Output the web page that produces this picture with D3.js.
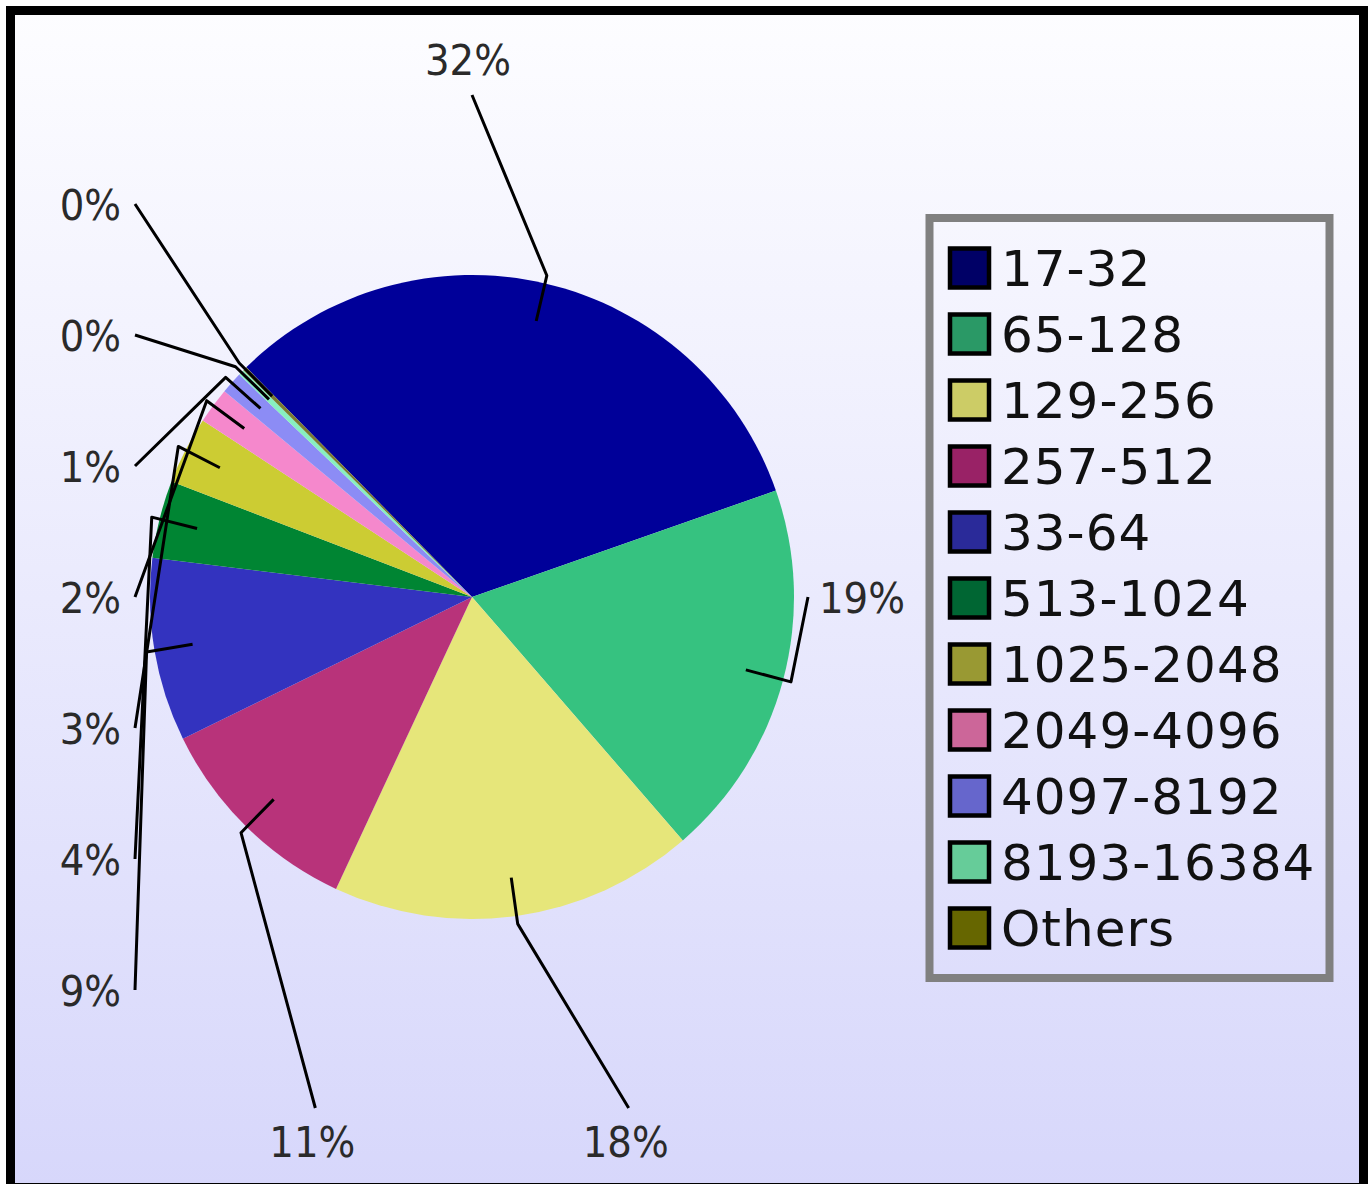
<!DOCTYPE html>
<html>
<head>
<meta charset="utf-8">
<script src="https://cdn.jsdelivr.net/npm/d3@7/dist/d3.min.js"></script>
<style>
  html, body { margin: 0; padding: 0; background: #ffffff; }
  svg { display: block; }
</style>
</head>
<body>
<svg id="chart" width="1371" height="1184"></svg>
<script>
// ---- data ----
const categories = ['17-32','65-128','129-256','257-512','33-64','513-1024','1025-2048','2049-4096','4097-8192','8193-16384','Others'];
const values = [32.0, 19.0, 18.3, 10.8, 9.2, 3.9, 3.4, 1.8, 1.1, 0.3, 0.2];

// ---- styles ----
const legendColors = ['#000066','#2a9966','#cccc66','#992266','#2a2a99','#006633','#999933','#cc6699','#6666cc','#66cc99','#666600'];
const sliceColors  = ['#000099','#36c280','#e6e67a','#b8337a','#3333bf','#008533','#cccc33','#f588cc','#8c8cf5','#88f0c0','#7a7a30'];

const W = 1371, H = 1184;
const svg = d3.select('#chart');

// background gradient
const defs = svg.append('defs');
const grad = defs.append('linearGradient').attr('id','bg')
  .attr('x1',0).attr('y1',0).attr('x2',0).attr('y2',1);
grad.append('stop').attr('offset','0%').attr('stop-color','#fdfdff');
grad.append('stop').attr('offset','100%').attr('stop-color','#d7d7fb');

svg.append('rect').attr('x',0).attr('y',0).attr('width',W).attr('height',H).attr('fill','#ffffff');
svg.append('rect').attr('x',10.5).attr('y',10.5).attr('width',1353).attr('height',1177)
  .attr('fill','url(#bg)').attr('stroke','#000').attr('stroke-width',9);

// ---- pie ----
const cx = 472, cy = 597, R = 322;
const deg = Math.PI / 180;
const startDeg = -44.5;
const pie = d3.pie().sort(null).value(d => d.v)
  .startAngle(startDeg * deg).endAngle((startDeg + 360) * deg);
const data = categories.map((c, i) => ({ c, v: values[i], i }));
const arcs = pie(data);
const arc = d3.arc().innerRadius(0).outerRadius(R);

const g = svg.append('g').attr('transform', `translate(${cx},${cy})`);
g.selectAll('path.slice').data(arcs).join('path')
  .attr('class','slice')
  .attr('d', arc)
  .attr('fill', d => sliceColors[d.data.i]);

// ---- labels (four-sided distribution) ----
const innerArc = d3.arc().innerRadius(R * 0.88 * 2).outerRadius(0); // centroid at 0.88R
const elbowArc = d3.arc().innerRadius(R * 1.025 * 2).outerRadius(0); // centroid at 1.025R
function sideOf(d) {
  let a = ((d.startAngle + d.endAngle) / 2) / deg;
  a = ((a % 360) + 360) % 360;
  if (a >= 330 || a < 45) return 'top';
  if (a < 135) return 'right';
  if (a < 235) return 'bottom';
  return 'left';
}
const sides = { top: [], right: [], bottom: [], left: [] };
arcs.forEach(d => sides[sideOf(d)].push(d));
const vSpan = 524, hSpan = 470;
const layout = [];
sides.top.forEach((d, k, arr) => {
  const x = cx - hSpan + (k + 1) * (2 * hSpan) / (arr.length + 1);
  layout.push({ d, ax: x, ay: cy - 502, tx: x - 4, ty: cy - 522, anchor: 'middle' });
});
sides.right.forEach((d, k, arr) => {
  const y = cy - vSpan + (k + 1) * (2 * vSpan) / (arr.length + 1);
  layout.push({ d, ax: cx + 336, ay: y, tx: cx + 347, ty: y + 16, anchor: 'start' });
});
sides.bottom.forEach((d, k, arr) => {
  const x = cx + hSpan - (k + 1) * (2 * hSpan) / (arr.length + 1);
  layout.push({ d, ax: x, ay: cy + 511, tx: x - 3, ty: cy + 560, anchor: 'middle' });
});
sides.left.forEach((d, k, arr) => {
  const y = cy + vSpan - (k + 1) * (2 * vSpan) / (arr.length + 1);
  layout.push({ d, ax: cx - 337, ay: y, tx: cx - 351, ty: y + 16, anchor: 'end' });
});

const lines = svg.append('g').attr('fill','none').attr('stroke','#000')
  .attr('stroke-width',3).attr('stroke-linejoin','round');
layout.forEach(L => {
  const p0 = innerArc.centroid(L.d), p1 = elbowArc.centroid(L.d);
  lines.append('polyline')
    .attr('points', [[cx + p0[0], cy + p0[1]], [cx + p1[0], cy + p1[1]], [L.ax, L.ay]].map(p => p.join(',')).join(' '));
});

svg.append('g').selectAll('text').data(layout).join('text')
  .attr('x', L => L.tx).attr('y', L => L.ty)
  .attr('text-anchor', L => L.anchor)
  .attr('font-family', '"DejaVu Sans Condensed", "DejaVu Sans", sans-serif')
  .attr('font-stretch','condensed')
  .attr('font-size', 43)
  .attr('fill', '#2a2a2a')
  .text(L => Math.round(L.d.data.v) + '%');

// ---- legend ----
svg.append('rect').attr('x',929.5).attr('y',218).attr('width',400).attr('height',760)
  .attr('fill','none').attr('stroke','#808080').attr('stroke-width',8);
const ly = d3.scalePoint().domain(categories).range([268, 928]);
const leg = svg.append('g');
leg.selectAll('rect').data(categories).join('rect')
  .attr('x', 950).attr('y', c => ly(c) - 19.5)
  .attr('width', 39).attr('height', 39)
  .attr('fill', (c, i) => legendColors[i])
  .attr('stroke', '#000').attr('stroke-width', 4.5);
leg.selectAll('text').data(categories).join('text')
  .attr('x', 1001).attr('y', c => ly(c) + 18)
  .attr('font-family', '"DejaVu Sans", sans-serif')
  .attr('font-size', 50)
  .attr('letter-spacing', 1)
  .attr('fill', '#111')
  .text(c => c);
</script>
</body>
</html>
